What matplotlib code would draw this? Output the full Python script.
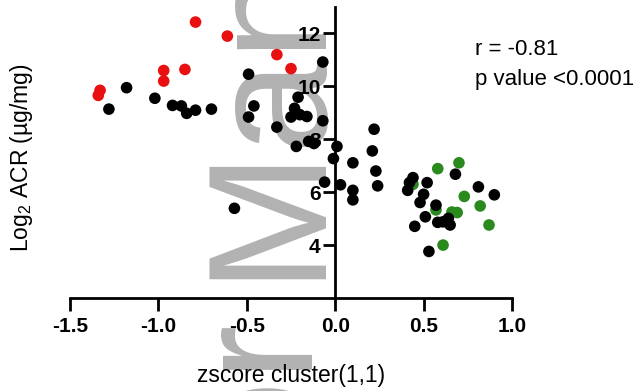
import matplotlib
matplotlib.use('Agg')
import matplotlib.pyplot as plt

plt.rcParams['font.family'] = ['Liberation Sans', 'DejaVu Sans']
plt.rcParams['mathtext.default'] = 'regular'

# points (zscore, log2 ACR)
red_x = [-0.79, -0.61, -0.33, -0.25, -0.85, -0.97, -0.97, -1.33, -1.34]
red_y = [12.43, 11.90, 11.20, 10.67, 10.64, 10.60, 10.20, 9.85, 9.66]

green_x = [0.58, 0.70, 0.73, 0.82, 0.66, 0.69, 0.57, 0.87, 0.61, 0.44]
green_y = [6.89, 7.11, 5.84, 5.48, 5.25, 5.23, 5.33, 4.76, 4.00, 6.30]

black_x = [-1.18, -1.28, -1.02, -0.92, -0.87, -0.84, -0.79, -0.70, -0.49, -0.46,
           -0.49, -0.33, -0.21, -0.23, -0.25, -0.20, -0.16, -0.07, -0.07, -0.22,
           -0.15, -0.12, -0.57,
           0.01, -0.01, 0.10, -0.06, 0.03, 0.10, 0.10, 0.22, 0.21, 0.23, 0.24,
           0.44, 0.42, 0.41, 0.52, 0.68, 0.50, 0.48, 0.57, 0.51, 0.45, 0.58,
           0.64, 0.65, 0.61, 0.53, 0.81, 0.90]
black_y = [9.95, 9.14, 9.55, 9.28, 9.26, 8.98, 9.10, 9.14, 10.46, 9.26,
           8.84, 8.46, 9.59, 9.17, 8.84, 8.93, 8.86, 8.70, 10.92, 7.73,
           7.92, 7.84, 5.39,
           7.73, 7.27, 7.11, 6.38, 6.28, 6.07, 5.71, 8.38, 7.56, 6.80, 6.24,
           6.55, 6.36, 6.07, 6.36, 6.68, 5.92, 5.61, 5.51, 5.07, 4.71, 4.86,
           5.01, 4.76, 4.88, 3.76, 6.20, 5.90]

x_ticks = [-1.5, -1.0, -0.5, 0.0, 0.5, 1.0]
x_labels = ['-1.5', '-1.0', '-0.5', '0.0', '0.5', '1.0']
y_ticks = [4, 6, 8, 10, 12]
stats_text = ['r = -0.81', 'p value <0.0001']

W, H = 644, 391
fig = plt.figure(figsize=(W / 100, H / 100), dpi=100)
# axes box in pixels: x -1.5..1.0 -> 70..512, y 2..13 -> 298..7
ax = fig.add_axes([70 / W, 1 - 298 / H, 442 / W, 291 / H])
ax.patch.set_visible(False)

ax.scatter(green_x, green_y, s=70, color='#2a8a1e', edgecolors='none', clip_on=False)
ax.scatter(black_x, black_y, s=70, color='black', edgecolors='none', clip_on=False)
ax.scatter(red_x, red_y, s=70, color='#e81010', edgecolors='none', clip_on=False)

ax.set_xlim(-1.5, 1.0)
ax.set_ylim(2, 13)

# prism style axes: y axis sits at x = 0
ax.spines['top'].set_visible(False)
ax.spines['right'].set_visible(False)
ax.spines['left'].set_position(('data', 0))
for s in ['left', 'bottom']:
    ax.spines[s].set_linewidth(2.0)

ax.set_xticks(x_ticks)
ax.set_xticklabels(x_labels)
ax.set_yticks(y_ticks)
ax.tick_params(width=2.0, length=9, labelsize=15)
ax.tick_params(axis='x', pad=5)
ax.tick_params(axis='y', pad=1.5)
for lab in ax.get_xticklabels() + ax.get_yticklabels():
    lab.set_fontweight('bold')

fig.text(28 / W, 1 - 158 / H, 'Log$_2$ ACR (\u00b5g/mg)', rotation=90,
         rotation_mode='anchor', fontsize=16.5, ha='center', va='baseline')
fig.text(291 / W, 1 - 382 / H, 'zscore cluster(1,1)', fontsize=16.5,
         ha='center', va='baseline')

fig.text(475 / W, 1 - 55 / H, stats_text[0], fontsize=16, va='baseline')
fig.text(475 / W, 1 - 85 / H, stats_text[1], fontsize=16, va='baseline')

# grey watermark behind the plot
fig.text(313 / W, 1 - 279 / H, 'Manuscript', rotation=90, rotation_mode='anchor',
         ha='left', va='baseline', fontsize=121, color='#b2b2b2', zorder=-1)
fig.text(313 / W, 1 - 323 / H, 'Author', rotation=90, rotation_mode='anchor',
         ha='right', va='baseline', fontsize=121, color='#b2b2b2', zorder=-1)

fig.savefig('out.png', dpi=100)
